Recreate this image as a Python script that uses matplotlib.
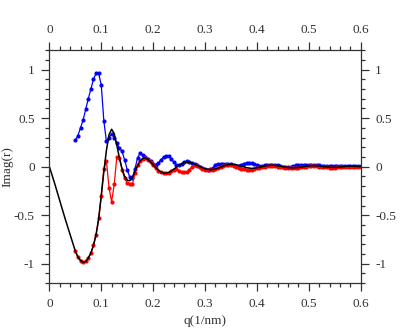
import numpy as np
import matplotlib
matplotlib.use("Agg")
import matplotlib.pyplot as plt
from matplotlib.ticker import MultipleLocator

plt.rcParams["font.family"] = ["Liberation Serif", "DejaVu Serif"]
plt.rcParams["axes.unicode_minus"] = False

# -----------------------------
# Data
# -----------------------------
# smooth model curve (black)
model_q = [0.000, 0.005, 0.010, 0.015, 0.020, 0.025, 0.030, 0.035, 0.040, 0.045,
           0.050, 0.055, 0.060, 0.065, 0.070, 0.075, 0.080, 0.085, 0.090, 0.095,
           0.100, 0.105, 0.110, 0.115, 0.120, 0.125, 0.130, 0.135, 0.140, 0.145,
           0.150, 0.155, 0.160, 0.165, 0.170, 0.175, 0.180, 0.185, 0.190, 0.195,
           0.200, 0.205, 0.210, 0.215, 0.220, 0.225, 0.230, 0.235, 0.240, 0.245,
           0.250, 0.255, 0.260, 0.265, 0.270, 0.275, 0.280, 0.290, 0.300, 0.310,
           0.320, 0.330, 0.340, 0.350, 0.360, 0.370, 0.380, 0.390, 0.400, 0.410,
           0.420, 0.430, 0.440, 0.450, 0.460, 0.470, 0.480, 0.490, 0.500, 0.510,
           0.520, 0.530, 0.540, 0.550, 0.560, 0.570, 0.580, 0.590, 0.600]
model_val = [0.0, -0.085, -0.17, -0.26, -0.35, -0.44, -0.53, -0.615, -0.70, -0.785,
             -0.87, -0.93, -0.965, -0.985, -0.978, -0.94, -0.89, -0.81, -0.70, -0.54,
             -0.30, -0.05, 0.17, 0.33, 0.385, 0.34, 0.22, 0.09, -0.02, -0.10,
             -0.14, -0.145, -0.11, -0.05, 0.01, 0.06, 0.085, 0.09, 0.075, 0.05,
             0.02, -0.01, -0.035, -0.055, -0.065, -0.068, -0.06, -0.045, -0.025, -0.005,
             0.015, 0.03, 0.042, 0.047, 0.045, 0.037, 0.025, 0.0, -0.022, -0.032,
             -0.025, -0.005, 0.015, 0.025, 0.02, 0.005, -0.01, -0.018, -0.012, 0.0,
             0.012, 0.015, 0.01, 0.0, -0.01, -0.012, -0.008, 0.0, 0.008, 0.01,
             0.006, 0.0, -0.006, -0.008, -0.004, 0.002, 0.005, 0.004, 0.0]

# measured points (shared q grid, 0.05 .. 0.60)
data_q = np.round(np.arange(0.05, 0.6001, 0.005), 3)

real_val = [-0.87, -0.93, -0.97, -0.985, -0.975, -0.94, -0.89, -0.81, -0.70, -0.53,
            -0.30, -0.02, 0.06, -0.22, -0.36, -0.18, 0.10, 0.09, -0.03, -0.12,
            -0.17, -0.18, -0.18, -0.07, 0.02, 0.06, 0.08, 0.085, 0.07, 0.045,
            0.015, -0.015, -0.04, -0.058, -0.068, -0.07, -0.062, -0.045, -0.03, -0.025,
            -0.04, -0.055, -0.06, -0.055, -0.03, 0.0, 0.02, 0.01, -0.005, -0.02,
            -0.03, -0.035, -0.038, -0.035, -0.025, -0.01, 0.0, 0.01, 0.015, 0.02,
            0.018, 0.01, 0.0, -0.01, -0.02, -0.028, -0.032, -0.033, -0.03, -0.025,
            -0.018, -0.01, -0.005, 0.0, 0.005, 0.008, 0.008, 0.005, 0.0, -0.005,
            -0.008, -0.012, -0.015, -0.015, -0.015, -0.012, -0.01, -0.006, -0.003, 0.0,
            0.003, 0.004, 0.004, 0.002, 0.0, -0.003, -0.006, -0.008, -0.01, -0.01,
            -0.01, -0.008, -0.006, -0.004, -0.002, 0.0, 0.0, -0.002, -0.004, -0.005,
            -0.005]

other_val = [0.27, 0.32, 0.40, 0.48, 0.59, 0.70, 0.80, 0.90, 0.96, 0.96,
             0.84, 0.47, 0.26, 0.30, 0.34, 0.30, 0.24, 0.19, 0.16, 0.07,
             -0.03, -0.11, -0.12, -0.02, 0.09, 0.14, 0.12, 0.10, 0.075, 0.055,
             0.03, 0.02, 0.04, 0.07, 0.10, 0.11, 0.105, 0.08, 0.045, 0.02,
             0.015, 0.03, 0.05, 0.055, 0.05, 0.04, 0.03, 0.015, 0.0, -0.015,
             -0.025, -0.03, -0.025, -0.015, 0.02, 0.03, 0.03, 0.03, 0.032, 0.03,
             0.025, 0.015, 0.008, 0.01, 0.02, 0.032, 0.038, 0.04, 0.035, 0.025,
             0.012, 0.008, 0.01, 0.015, 0.02, 0.022, 0.022, 0.018, 0.012, 0.005,
             0.0, -0.003, -0.004, 0.0, 0.006, 0.012, 0.016, 0.018, 0.016, 0.012,
             0.014, 0.016, 0.018, 0.016, 0.012, 0.008, 0.006, 0.008, 0.01, 0.01,
             0.008, 0.006, 0.006, 0.008, 0.008, 0.006, 0.004, 0.004, 0.005, 0.005,
             0.004]

# -----------------------------
# Plot
# -----------------------------
fig = plt.figure(figsize=(4.15, 3.32), dpi=100)
ax = fig.add_axes([0.119, 0.147, 0.750, 0.702])

ax.plot(data_q, other_val, color="#0000ff", lw=0.9, marker="o", ms=3, mew=0)
ax.plot(data_q, real_val, color="#ff0000", lw=0.9, marker="o", ms=3, mew=0)
ax.plot(model_q, model_val, color="black", lw=1.1)

ax.set_xlim(0, 0.6)
ax.set_ylim(-1.2, 1.2)
ax.xaxis.set_major_locator(MultipleLocator(0.1))
ax.xaxis.set_minor_locator(MultipleLocator(0.02))
ax.yaxis.set_major_locator(MultipleLocator(0.5))
ax.yaxis.set_minor_locator(MultipleLocator(0.1))
ax.xaxis.set_major_formatter(plt.FuncFormatter(lambda v, p: f"{v:g}"))
ax.yaxis.set_major_formatter(plt.FuncFormatter(lambda v, p: f"{v:g}"))

ax.tick_params(which="both", direction="out", top=True, right=True,
               labeltop=True, labelright=True, labelsize=9.5,
               colors="#333333", width=0.9)
ax.tick_params(which="major", length=5.5, pad=5)
ax.tick_params(which="minor", length=3)
for s in ax.spines.values():
    s.set_color("#333333")
    s.set_linewidth(0.9)

ax.set_xlabel("q(1/nm)", fontsize=9.5, color="#333333", labelpad=4)
ax.set_ylabel("Imag(r)", fontsize=9.5, color="#333333")
ax.yaxis.set_label_coords(-0.115, 0.5)

fig.savefig("out.png", dpi=100)
